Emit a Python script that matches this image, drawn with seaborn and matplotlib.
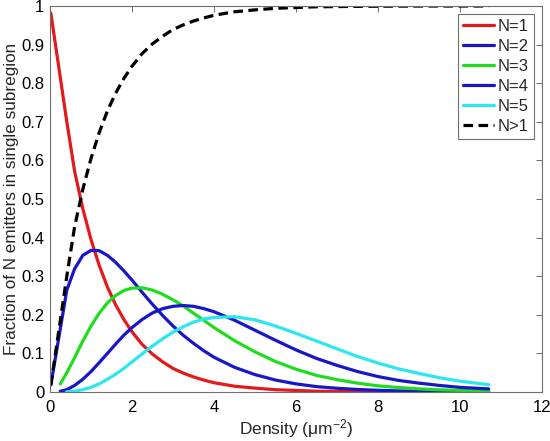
import matplotlib
matplotlib.use("Agg")
import matplotlib.pyplot as plt
import seaborn as sns
import pandas as pd

# values
x_main = [0.02, 0.41, 0.6, 0.8, 1.0, 1.2, 1.4, 1.6, 1.8, 2.0, 2.25, 2.5, 2.75, 3.0,
          3.25, 3.5, 3.75, 4.0, 4.5, 5.0, 5.5, 6.0, 6.5, 7.0, 7.5, 8.0, 8.5, 9.0,
          9.5, 10.0, 10.7]

n1 = [0.982, 0.70, 0.572, 0.475, 0.395, 0.328, 0.272, 0.226, 0.188, 0.156, 0.123,
      0.098, 0.078, 0.061, 0.049, 0.039, 0.031, 0.024, 0.015, 0.010, 0.006, 0.004,
      0.002, 0.0015, 0.0009, 0.0006, 0.0004, 0.0002, 0.00015, 0.0001, 0.00005]
n2 = [0.018, 0.264, 0.319, 0.354, 0.367, 0.366, 0.354, 0.336, 0.314, 0.290, 0.258,
      0.227, 0.198, 0.171, 0.147, 0.126, 0.107, 0.090, 0.064, 0.045, 0.031, 0.021,
      0.014, 0.0097, 0.0065, 0.0044, 0.0029, 0.0019, 0.0013, 0.00085, 0.0005]
n_gt1 = [0.018, 0.30, 0.428, 0.525, 0.605, 0.672, 0.728, 0.774, 0.812, 0.844, 0.877,
         0.902, 0.922, 0.939, 0.951, 0.961, 0.969, 0.976, 0.985, 0.990, 0.994, 0.996,
         0.998, 0.9985, 0.999, 0.9994, 0.9996, 0.9998, 0.9999, 0.9999, 1.0]

x_n34 = [0.25] + x_main[1:]
n3 = [0.021, 0.050, 0.089, 0.132, 0.171, 0.204, 0.231, 0.250, 0.263, 0.269, 0.270,
      0.264, 0.253, 0.239, 0.223, 0.204, 0.186, 0.167, 0.133, 0.104, 0.079, 0.059,
      0.043, 0.032, 0.023, 0.016, 0.0115, 0.0081, 0.0057, 0.0040, 0.0024]
n4 = [0.002, 0.006, 0.017, 0.033, 0.053, 0.076, 0.100, 0.124, 0.147, 0.167, 0.188,
      0.205, 0.216, 0.222, 0.224, 0.222, 0.216, 0.208, 0.186, 0.160, 0.134, 0.109,
      0.087, 0.069, 0.053, 0.040, 0.030, 0.023, 0.017, 0.012, 0.008]
x_n5 = x_main[1:]
n5 = [0.0006, 0.0023, 0.006, 0.012, 0.021, 0.033, 0.046, 0.061, 0.078, 0.099, 0.119,
      0.138, 0.155, 0.169, 0.181, 0.189, 0.193, 0.195, 0.187, 0.171, 0.152, 0.132,
      0.112, 0.092, 0.075, 0.060, 0.048, 0.037, 0.028, 0.019]

series = [
    ("N=1", x_main, n1, "#e3191b", "-"),
    ("N=2", x_main, n2, "#1717c8", "-"),
    ("N=3", x_n34, n3, "#1fdc1f", "-"),
    ("N=4", x_n34, n4, "#1717c8", "-"),
    ("N=5", x_n5, n5, "#2ce6f2", "-"),
    ("N>1", x_main, n_gt1, "black", (0, (3, 1.7))),
]

sns.set_style("white")
plt.rcParams["font.family"] = ["Liberation Sans", "DejaVu Sans"]
plt.rcParams["mathtext.fontset"] = "custom"
plt.rcParams["mathtext.rm"] = "Liberation Sans"
plt.rcParams["mathtext.default"] = "regular"

fig = plt.figure(figsize=(5.5, 4.41), dpi=100)
ax = fig.add_axes([50 / 550, 49 / 441, 492 / 550, 386 / 441])

for name, xs, ys, col, ls in series:
    df = pd.DataFrame({"x": xs, "y": ys})
    sns.lineplot(data=df, x="x", y="y", ax=ax, color=col, linestyle=ls,
                 linewidth=2.3, label=name)

ax.set_xlim(0, 12)
ax.set_ylim(0, 1)
ax.set_xticks(range(0, 13, 2))
ax.set_yticks([i / 10 for i in range(11)])
ax.set_yticklabels(["0", "0.1", "0.2", "0.3", "0.4", "0.5", "0.6", "0.7", "0.8", "0.9", "1"])
ax.tick_params(direction="in", length=4.5, width=0.7, color="#6e6e6e",
               labelsize=12, top=True, right=True, pad=4, labelcolor="black")
ax.tick_params(axis="x", pad=6)
for sp in ax.spines.values():
    sp.set_color("#6e6e6e")
    sp.set_linewidth(0.8)

ax.set_xlabel("Density (μm$^{-2}$)", fontsize=12.5, labelpad=1)
ax.set_ylabel("Fraction of N emitters in single subregion", fontsize=12.3, labelpad=2)

leg = ax.legend(loc="upper right", fontsize=12, frameon=True, fancybox=False,
                framealpha=1, edgecolor="#6e6e6e", handlelength=1.9,
                handletextpad=0.2, labelspacing=0.3, borderaxespad=0.5,
                borderpad=0.3)
leg.get_frame().set_linewidth(0.8)

fig.savefig("out.png", dpi=100)
